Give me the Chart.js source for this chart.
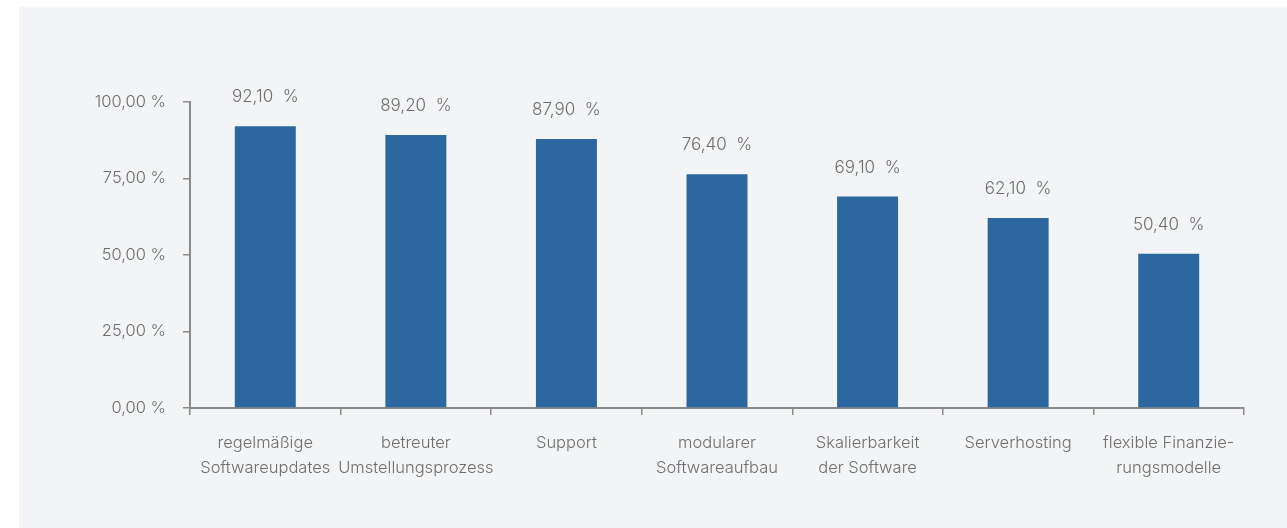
<!DOCTYPE html>
<html>
<head>
<meta charset="utf-8">
<script src="https://cdn.jsdelivr.net/npm/chart.js@4"></script>
<style>
  html, body { margin: 0; padding: 0; background: #ffffff; }
  #panel {
    position: absolute; left: 19px; top: 7px;
    width: 1268px; height: 521px;
    background: #f3f4f6;
  }
  canvas { display: block; }
</style>
</head>
<body>
<div id="panel"><canvas id="chart" width="1268" height="521"></canvas></div>
<script>
// Daten
const categories = [
    ['regelmäßige', 'Softwareupdates'],
    ['betreuter', 'Umstellungsprozess'],
    'Support',
    ['modularer', 'Softwareaufbau'],
    ['Skalierbarkeit', 'der Software'],
    'Serverhosting',
    ['flexible Finanzie-', 'rungsmodelle']
];
const values = [92.1, 89.2, 87.9, 76.4, 69.1, 62.1, 50.4];
const yTicks = [0, 25, 50, 75, 100];

const fmt = (v) => v.toFixed(2).replace('.', ',');
const textColor = '#6e6e6e';
const axisColor = '#8a8a8a';
const fontFamily = "Inter, 'Liberation Sans', sans-serif";

// Werte über den Balken
const valueLabels = {
    id: 'valueLabels',
    afterDatasetsDraw(chart) {
        const ctx = chart.ctx;
        const meta = chart.getDatasetMeta(0);
        ctx.save();
        ctx.font = '300 17px ' + fontFamily;
        ctx.fillStyle = textColor;
        ctx.textAlign = 'center';
        ctx.textBaseline = 'middle';
        meta.data.forEach((bar, i) => {
            ctx.fillText(fmt(values[i]) + '  %', bar.x, bar.y - 29);
        });
        ctx.restore();
    }
};

new Chart(document.getElementById('chart'), {
    type: 'bar',
    data: {
        labels: categories,
        datasets: [{
            data: values,
            backgroundColor: '#2c679f',
            barPercentage: 0.405,
            categoryPercentage: 1
        }]
    },
    options: {
        responsive: false,
        animation: false,
        layout: { padding: { top: 95, right: 43, bottom: 0, left: 0 } },
        plugins: {
            legend: { display: false },
            tooltip: { enabled: false }
        },
        scales: {
            x: {
                offset: true,
                grid: {
                    offset: true,
                    drawOnChartArea: false,
                    drawTicks: true,
                    tickLength: 7,
                    color: axisColor,
                    lineWidth: 1.5
                },
                border: { color: axisColor, width: 2 },
                ticks: {
                    color: textColor,
                    font: { family: fontFamily, size: 16.5, weight: '300', lineHeight: 1.5 },
                    padding: 16,
                    maxRotation: 0,
                    autoSkip: false
                },
                afterFit(scale) { scale.height = 120; }
            },
            y: {
                min: 0,
                max: 100,
                afterBuildTicks(scale) {
                    scale.ticks = yTicks.map(v => ({ value: v }));
                },
                grid: {
                    drawOnChartArea: false,
                    tickLength: 7,
                    color: axisColor,
                    lineWidth: 1.5
                },
                border: { color: axisColor, width: 2 },
                ticks: {
                    color: textColor,
                    font: { family: fontFamily, size: 16.5, weight: '300' },
                    padding: 17,
                    callback: (v) => fmt(v) + ' %'
                },
                afterFit(scale) { scale.width = 171; }
            }
        }
    },
    plugins: [valueLabels]
});
</script>
</body>
</html>
